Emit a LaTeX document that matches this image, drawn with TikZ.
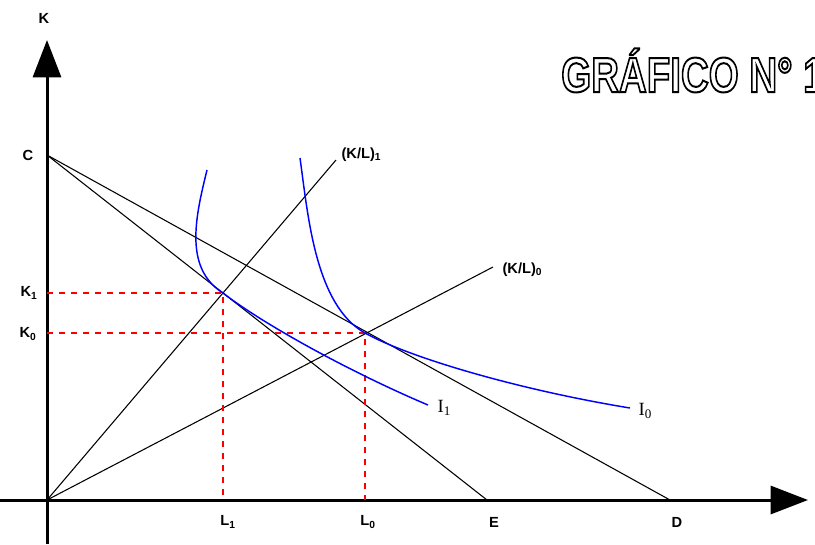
\documentclass[tikz,border=0pt]{standalone}
\usepackage{fontspec}
\setmainfont{Liberation Serif}
\setsansfont{Liberation Sans}
\usetikzlibrary{arrows.meta}
% hollow (outlined) letters
\newcommand{\hollowtext}[1]{\special{pdf:literal direct 1 Tr 1.5 w}#1\special{pdf:literal direct 0 Tr}}

\begin{document}
\begin{tikzpicture}[x=0.75pt,y=-0.75pt,>={Triangle[length=28pt,width=21pt]},
    axis/.style={line width=2.25pt},
    thin/.style={line width=0.8pt},
    guide/.style={red,line width=1.3pt,dash pattern=on 4.5pt off 4.5pt},
    isoq/.style={blue,line width=1.1pt},
    lab/.style={font=\sffamily\bfseries\fontsize{11}{13}\selectfont,inner sep=1pt},
    ilab/.style={font=\rmfamily\fontsize{14}{16}\selectfont,inner sep=1pt}]
    \useasboundingbox (0,0) rectangle (815,544);
    % axes
    \coordinate (O) at (47,500);
    \coordinate (ytop) at (47,40);
    \coordinate (ybot) at (47,544);
    \coordinate (xlft) at (0,500);
    \coordinate (xrgt) at (808,500);
    \draw[axis,->] (ybot) -- (ytop);
    \draw[axis,->] (xlft) -- (xrgt);
    \node[lab] (kax) at (44,18) {K};
    % budget lines
    \coordinate (C) at (47,155);
    \coordinate (E) at (487,500);
    \coordinate (D) at (670,500);
    \draw[thin] (C) -- (E);
    \draw[thin] (C) -- (D);
    \node[lab] (clab) at (28,155) {C};
    \node[lab] (elab) at (494,522) {E};
    \node[lab] (dlab) at (677,522) {D};
    % tangency points
    \coordinate (A) at (223,293);
    \coordinate (B) at (365,333);
    % rays K/L
    \coordinate (r1) at (336,160);
    \coordinate (r0) at (493,267);
    \draw[thin] (O) -- (r1);
    \draw[thin] (O) -- (r0);
    \node[lab,anchor=west] (r1lab) at (340,155) {(K/L)\textsubscript{1}};
    \node[lab,anchor=west] (r0lab) at (501,270) {(K/L)\textsubscript{0}};
    % guides
    \coordinate (kA) at (O |- A);
    \coordinate (lA) at (A |- O);
    \coordinate (kB) at (O |- B);
    \coordinate (lB) at (B |- O);
    \draw[guide] (kA) -- (A) -- (lA);
    \draw[guide] (kB) -- (B) -- (lB);
    \node[lab] (k1lab) at (29,293) {K\textsubscript{1}};
    \node[lab] (k0lab) at (28,334) {K\textsubscript{0}};
    \node[lab] (l1lab) at (228,522) {L\textsubscript{1}};
    \node[lab] (l0lab) at (368,522) {L\textsubscript{0}};
    % isoquants
    \coordinate (i1s) at (207,170);
    \coordinate (i1e) at (428,405);
    \coordinate (i0s) at (300,158);
    \coordinate (i0e) at (630,408);
    \draw[isoq] (i1s) .. controls (196,215) and (183,268) .. (A)
        .. controls (263,324) and (350,372) .. (i1e);
    \draw[isoq] (i0s) .. controls (308,215) and (315,305) .. (B)
        .. controls (410,358) and (520,390) .. (i0e);
    \node[ilab,anchor=west] (i1lab) at (436,408) {I\textsubscript{1}};
    \node[ilab,anchor=west] (i0lab) at (637,411) {I\textsubscript{0}};
    % title
    \node[anchor=base west,inner sep=0pt,font=\sffamily\bfseries\fontsize{37}{40}\selectfont] (title) at (561,92)
        {\scalebox{0.78}[1]{\hollowtext{GRÁFICO N° 1}}};
\end{tikzpicture}
\end{document}
